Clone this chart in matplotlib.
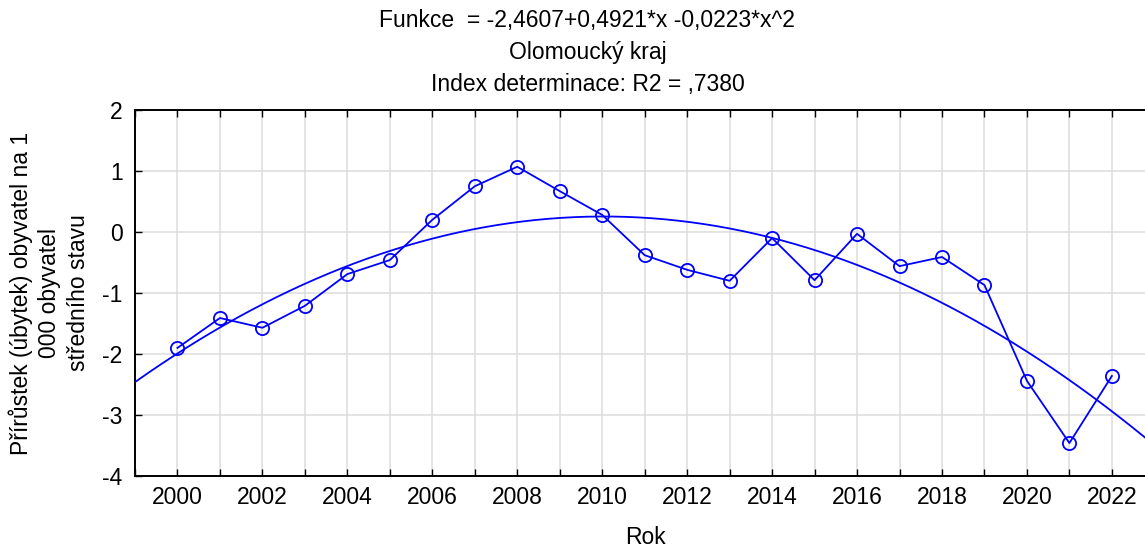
import numpy as np
import matplotlib
matplotlib.use("Agg")
import matplotlib.pyplot as plt
from matplotlib.ticker import MultipleLocator

years = list(range(2000, 2023))
values = [-1.90, -1.41, -1.57, -1.21, -0.69, -0.46, 0.20, 0.75, 1.07, 0.67,
          0.28, -0.38, -0.62, -0.80, -0.10, -0.79, -0.03, -0.56, -0.41, -0.87,
          -2.44, -3.46, -2.36]
coef = [-2.4607, 0.4921, -0.0223]  # a + b*x + c*x^2, x = year - 1999

title_lines = ["Funkce  = -2,4607+0,4921*x -0,0223*x^2",
               "Olomoucký kraj",
               "Index determinace: R2 = ,7380"]
ylabel = "Přírůstek (úbytek) obyvatel na 1\n000 obyvatel\nstředního stavu"
xlabel = "Rok"

plt.rcParams['font.family'] = ['Liberation Sans', 'DejaVu Sans']
plt.rcParams['axes.unicode_minus'] = False
fs = 16.5

fig = plt.figure(figsize=(11.45, 5.51), dpi=100)
ax = fig.add_axes([135 / 1145, 1 - 476 / 551, 1 - 135 / 1145, (476 - 110) / 551])

xmin, xmax = 1999.0, 2022.78
ax.set_xlim(xmin, xmax)
ax.set_ylim(-4, 2)

blue = "#0000ff"
xs = np.linspace(xmin, xmax + 0.5, 400)
t = xs - 1999
ax.plot(xs, coef[0] + coef[1] * t + coef[2] * t ** 2, color=blue, lw=1.3, zorder=3)
ax.plot(years, values, color=blue, lw=1.3, marker='o', markersize=9.5,
        markerfacecolor='none', markeredgecolor=blue, markeredgewidth=1.3, zorder=4)

ax.xaxis.set_major_locator(MultipleLocator(2))
ax.xaxis.set_minor_locator(MultipleLocator(1))
ax.yaxis.set_major_locator(MultipleLocator(1))
ax.grid(True, which='both', axis='x', color='#dcdcdc', lw=1.1, zorder=0)
ax.grid(True, which='major', axis='y', color='#dcdcdc', lw=1.1, zorder=0)
ax.set_axisbelow(True)

ax.tick_params(which='both', direction='in', top=True, bottom=True, left=True,
               right=False, length=5, width=1.0, color='black')
ax.tick_params(axis='both', labelsize=fs, pad=7)
ax.tick_params(axis='y', pad=9)
for s in ['left', 'bottom', 'top']:
    ax.spines[s].set_linewidth(1.4)
ax.spines['right'].set_visible(False)

fig.text(0.513, 1 - 20 / 551, title_lines[0], ha='center', va='center', fontsize=fs)
fig.text(0.513, 1 - 52 / 551, title_lines[1], ha='center', va='center', fontsize=fs)
fig.text(0.513, 1 - 84 / 551, title_lines[2], ha='center', va='center', fontsize=fs)

fig.text(49 / 1145, 1 - 293 / 551, ylabel, rotation=90, ha='center', va='center',
         fontsize=fs, multialignment='center', linespacing=1.3)
fig.text(645 / 1145, 1 - 538 / 551, xlabel, ha='center', va='center', fontsize=fs)

fig.savefig("out.png", dpi=100)
